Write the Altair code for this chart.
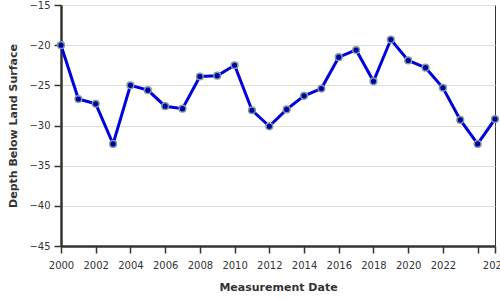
import altair as alt
import pandas as pd

years = list(range(2000, 2026))
depths = [-20.0, -26.7, -27.3, -32.3, -25.0, -25.6, -27.6, -27.9, -23.9, -23.8,
          -22.5, -28.1, -30.1, -28.0, -26.3, -25.4, -21.5, -20.6, -24.5, -19.3,
          -21.9, -22.8, -25.3, -29.3, -32.3, -29.2]
x_ticks = [2000, 2002, 2004, 2006, 2008, 2010, 2012, 2014, 2016, 2018, 2020, 2022, 2024, 2025]
y_ticks = [-45, -40, -35, -30, -25, -20, -15]

df = pd.DataFrame({"year": years, "depth": depths})

FONT = "DejaVu Sans"

x = alt.X("year:Q", title="Measurement Date",
          scale=alt.Scale(domain=[2000, 2025], nice=False, zero=False),
          axis=alt.Axis(values=x_ticks, format="d", grid=False,
                        labelExpr="datum.value == 2024 ? '' : datum.label",
                        labelOverlap=False, labelFlush=False,
                        labelPadding=7, titlePadding=11))
y = alt.Y("depth:Q", title="Depth Below Land Surface",
          scale=alt.Scale(domain=[-45, -15], nice=False, zero=False),
          axis=alt.Axis(values=y_ticks, grid=True, labelPadding=4, titlePadding=10))

base = alt.Chart(df).encode(x=x, y=y)
line = base.mark_line(color="#0000dd", strokeWidth=3)
pts = base.mark_point(filled=True, fill="#0000aa", stroke="#7f9a9a", strokeWidth=1.5,
                      size=45, opacity=1)

chart = (line + pts).properties(
    width=434, height=241,
    autosize=alt.AutoSizeParams(type="none"),
    padding={"left": 61, "top": 5, "right": 5, "bottom": 54},
).configure_view(
    stroke="#333333", strokeWidth=1
).configure_axis(
    domainColor="#333333", domainWidth=2.5,
    tickColor="#333333", tickSize=7, tickWidth=1.5,
    labelFont=FONT, labelFontSize=10, labelColor="#333333",
    titleFont=FONT, titleFontSize=11, titleFontWeight="bold", titleColor="#333333",
    gridColor="#dddddd", gridWidth=1,
)

chart.save("out.html", embed_options={"renderer": "svg", "actions": False})
